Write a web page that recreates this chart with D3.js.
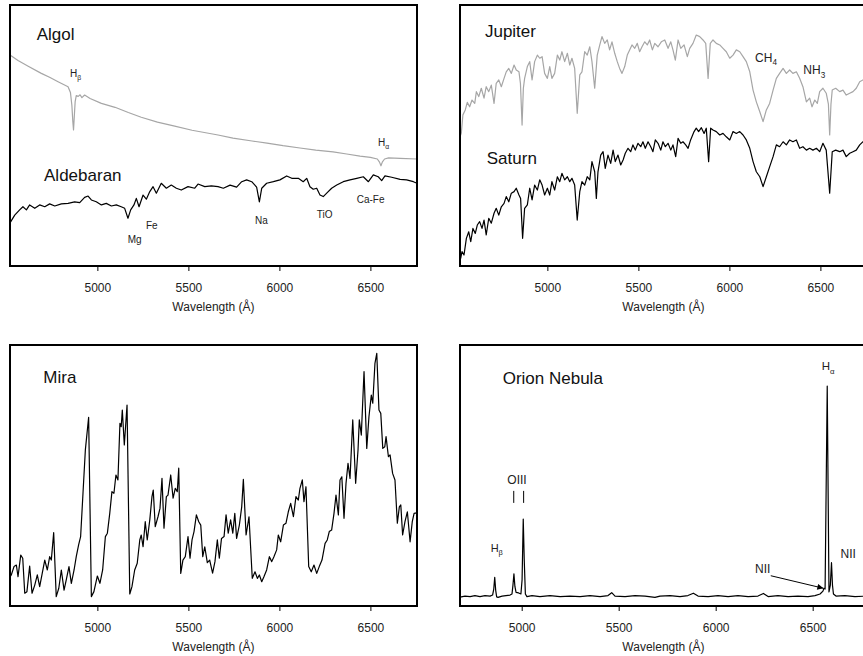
<!DOCTYPE html>
<html>
<head>
<meta charset="utf-8">
<script src="https://cdn.jsdelivr.net/npm/d3@7"></script>
<style>
  body { margin: 0; background: #fff; }
  svg { display: block; font-family: "Liberation Sans", Arial, Helvetica, sans-serif; }
  .axis text { font-size: 12px; fill: #222; }
  .axis line { stroke: #000; }
</style>
</head>
<body>
<svg id="chart" width="863" height="656"></svg>
<script>
// wavelength in Angstrom, flux in arbitrary units (0-100 per panel)
var tickValues = [5000, 5500, 6000, 6500];

var algol = [[4520,80.8],[4564,78.7],[4620,76.5],[4692,73.8],[4740,72.2],[4784,70.6],[4839,68.7],[4852,66.5],[4860,61.5],[4865,55.5],[4869,52.1],[4873,57.0],[4878,63.0],[4884,65.3],[4895,65.0],[4905,65.6],[4915,64.5],[4930,65.5],[4960,64.2],[5022,62.3],[5097,60.8],[5170,58.8],[5241,57.0],[5330,55.1],[5425,53.6],[5520,52.0],[5663,50.2],[5745,49.0],[5850,47.9],[5932,47.1],[6020,46.1],[6113,45.2],[6200,44.4],[6295,43.7],[6370,42.9],[6443,42.1],[6500,41.6],[6538,41.0],[6550,39.8],[6558,38.4],[6566,39.9],[6578,41.0],[6600,41.4],[6663,41.2],[6756,41.0]];

var aldebaran = [[4520,16.5],[4546,19.5],[4573,21.5],[4591,22.7],[4610,21.5],[4628,23.4],[4656,22.1],[4683,23.4],[4711,22.7],[4738,23.8],[4766,23.0],[4802,23.8],[4839,24.0],[4875,24.6],[4903,24.3],[4930,26.3],[4949,26.8],[4967,25.3],[4994,24.6],[5022,23.4],[5049,24.0],[5077,23.0],[5104,23.4],[5131,22.7],[5150,22.1],[5168,18.3],[5183,21.5],[5201,23.4],[5214,25.9],[5229,22.7],[5251,27.2],[5269,25.6],[5288,28.5],[5306,30.4],[5324,27.9],[5351,31.7],[5379,29.8],[5406,31.0],[5434,29.8],[5461,29.1],[5498,30.4],[5535,29.8],[5553,31.4],[5590,30.4],[5626,30.7],[5663,30.4],[5692,29.8],[5729,31.0],[5765,30.2],[5793,32.3],[5820,33.0],[5848,32.3],[5875,30.2],[5890,24.6],[5903,29.8],[5930,31.7],[5967,32.3],[6003,33.0],[6040,34.5],[6068,33.6],[6104,33.6],[6131,32.3],[6150,33.6],[6168,30.4],[6186,29.4],[6205,29.8],[6223,27.2],[6241,26.6],[6260,27.9],[6287,29.8],[6315,31.0],[6351,32.3],[6388,33.0],[6425,33.6],[6461,34.2],[6489,32.3],[6516,34.9],[6543,34.2],[6562,32.7],[6580,34.5],[6617,34.0],[6663,33.2],[6699,33.0],[6736,32.3],[6756,31.7]];

var jupiter = [[4520,49.5],[4527,50.8],[4536,57.9],[4549,59.8],[4560,62.7],[4573,61.0],[4586,63.6],[4601,62.3],[4610,66.8],[4623,64.9],[4637,68.1],[4652,64.3],[4664,68.7],[4678,66.8],[4692,69.3],[4707,62.3],[4719,70.0],[4733,71.3],[4747,68.7],[4762,71.9],[4774,74.4],[4788,75.7],[4802,73.8],[4817,77.0],[4829,75.1],[4844,74.4],[4852,70.0],[4861,54.0],[4868,68.0],[4875,71.9],[4890,76.4],[4903,78.3],[4916,71.3],[4930,78.3],[4945,80.8],[4958,79.6],[4971,80.2],[4985,73.8],[5000,71.9],[5013,76.4],[5025,71.9],[5040,73.8],[5055,80.8],[5068,78.9],[5080,82.1],[5095,78.3],[5110,81.5],[5123,77.0],[5135,79.6],[5150,75.7],[5164,58.5],[5178,73.2],[5190,74.4],[5205,82.1],[5219,80.8],[5233,84.0],[5245,78.3],[5260,68.1],[5274,80.8],[5288,84.7],[5300,87.9],[5315,85.3],[5329,86.6],[5342,82.8],[5355,85.9],[5370,81.5],[5384,78.3],[5397,75.7],[5410,73.8],[5425,76.4],[5439,80.8],[5452,82.8],[5465,84.7],[5480,83.4],[5494,85.3],[5507,82.1],[5520,84.0],[5535,85.9],[5549,84.7],[5562,86.6],[5577,82.8],[5590,85.3],[5608,84.0],[5626,85.9],[5645,86.6],[5663,83.4],[5678,85.9],[5690,82.8],[5703,78.9],[5718,86.6],[5733,83.4],[5751,84.7],[5769,80.2],[5782,83.4],[5800,85.3],[5818,88.5],[5837,87.9],[5855,86.6],[5870,85.3],[5883,71.9],[5895,85.3],[5910,86.6],[5928,85.3],[5947,84.7],[5965,83.4],[5983,82.1],[6002,79.6],[6020,80.8],[6038,82.8],[6057,82.1],[6075,80.2],[6093,78.3],[6112,74.4],[6130,67.4],[6148,62.9],[6167,59.1],[6185,55.3],[6203,59.8],[6221,62.3],[6240,67.4],[6258,71.9],[6276,73.8],[6295,75.7],[6313,73.8],[6331,75.1],[6349,73.8],[6368,74.4],[6386,71.9],[6404,68.7],[6423,62.9],[6441,64.3],[6454,61.0],[6469,63.6],[6483,62.3],[6496,66.8],[6514,68.1],[6532,66.2],[6544,62.0],[6551,50.2],[6558,62.0],[6565,67.4],[6584,68.1],[6606,66.8],[6624,67.4],[6642,65.5],[6661,66.2],[6679,66.8],[6697,68.1],[6716,70.6],[6734,71.3],[6756,72.0]];

var saturn = [[4520,2.5],[4524,3.0],[4531,5.5],[4542,4.2],[4555,10.6],[4568,13.1],[4579,9.3],[4591,14.4],[4604,12.5],[4615,15.7],[4628,17.0],[4641,14.4],[4652,17.6],[4664,11.9],[4678,18.3],[4692,16.4],[4707,20.2],[4719,22.1],[4733,19.5],[4747,22.7],[4762,24.0],[4774,26.6],[4788,24.6],[4802,27.9],[4817,28.5],[4829,29.8],[4844,27.2],[4853,25.9],[4864,10.6],[4875,22.1],[4890,23.4],[4903,29.8],[4916,25.3],[4930,31.0],[4945,29.1],[4958,33.0],[4971,31.0],[4985,27.2],[5000,29.8],[5013,27.2],[5025,32.3],[5040,29.1],[5055,34.2],[5068,32.3],[5080,35.5],[5095,33.0],[5110,34.2],[5123,32.3],[5135,33.6],[5150,31.0],[5164,17.6],[5178,28.5],[5190,32.3],[5205,31.0],[5219,34.2],[5233,33.0],[5245,40.0],[5260,36.1],[5269,25.9],[5278,36.1],[5293,42.5],[5306,43.8],[5318,37.4],[5333,42.5],[5348,39.3],[5361,44.4],[5373,40.0],[5388,42.5],[5403,38.7],[5416,40.6],[5428,43.2],[5443,45.1],[5458,43.8],[5470,46.4],[5483,44.4],[5498,47.0],[5513,45.7],[5525,47.6],[5538,45.1],[5553,47.6],[5568,45.7],[5580,43.8],[5593,48.3],[5608,47.0],[5623,44.4],[5635,47.6],[5648,45.7],[5663,47.0],[5678,44.4],[5690,46.4],[5705,41.9],[5718,48.9],[5733,47.0],[5745,47.6],[5760,46.4],[5773,45.1],[5787,48.3],[5806,51.5],[5818,52.8],[5831,51.5],[5846,53.0],[5861,50.8],[5873,52.8],[5886,40.0],[5897,52.8],[5910,52.1],[5928,51.5],[5947,50.2],[5965,50.8],[5983,49.5],[6002,48.3],[6020,51.5],[6038,50.8],[6057,51.5],[6075,50.2],[6093,48.3],[6112,45.1],[6130,40.0],[6148,36.1],[6167,34.2],[6185,30.4],[6203,34.2],[6221,38.0],[6240,41.9],[6258,46.4],[6276,45.7],[6295,47.6],[6313,46.4],[6331,48.3],[6349,47.6],[6368,48.3],[6386,45.1],[6404,45.7],[6423,44.4],[6441,45.1],[6459,44.4],[6478,45.1],[6496,43.8],[6514,47.0],[6532,44.4],[6551,27.9],[6565,43.8],[6584,44.4],[6606,43.8],[6624,44.4],[6642,41.9],[6661,43.2],[6679,43.8],[6697,44.4],[6716,46.4],[6734,47.6],[6756,48.0]];

var mira = [[4520,11.1],[4527,11.9],[4542,15.1],[4555,15.7],[4564,11.2],[4579,19.5],[4590,18.3],[4601,4.9],[4613,5.5],[4628,15.3],[4641,4.9],[4656,8.0],[4670,11.9],[4683,7.4],[4697,12.5],[4711,17.6],[4725,13.8],[4738,18.9],[4747,17.6],[4760,28.1],[4774,3.6],[4788,6.8],[4802,13.8],[4817,6.1],[4829,10.0],[4844,15.1],[4857,8.7],[4872,13.8],[4884,18.9],[4897,23.4],[4908,26.6],[4921,43.2],[4934,59.8],[4952,72.3],[4967,3.6],[4981,5.5],[5000,11.5],[5014,8.7],[5029,13.8],[5044,26.6],[5055,27.9],[5068,35.5],[5080,43.8],[5091,43.2],[5102,50.2],[5113,48.3],[5124,70.0],[5131,68.7],[5137,75.1],[5148,61.7],[5163,77.0],[5178,4.6],[5190,7.4],[5205,13.8],[5219,16.4],[5233,25.3],[5241,27.2],[5251,22.7],[5263,32.3],[5274,25.3],[5288,33.0],[5300,41.9],[5307,44.4],[5318,30.4],[5333,34.2],[5344,37.4],[5355,48.9],[5366,29.8],[5379,41.9],[5388,42.5],[5403,50.2],[5416,41.3],[5428,45.1],[5439,43.8],[5447,52.8],[5458,12.5],[5470,17.6],[5483,18.9],[5498,26.6],[5509,18.3],[5520,25.3],[5531,28.5],[5544,34.9],[5557,32.3],[5568,31.0],[5579,18.9],[5590,22.7],[5604,16.6],[5617,17.6],[5633,12.6],[5646,17.0],[5659,25.3],[5670,18.3],[5682,25.9],[5696,26.6],[5707,34.9],[5719,27.9],[5732,33.0],[5744,27.9],[5755,35.5],[5765,25.9],[5780,31.0],[5793,38.0],[5802,48.5],[5817,27.2],[5833,34.2],[5851,10.6],[5866,13.1],[5879,10.6],[5890,11.9],[5903,9.3],[5915,11.2],[5930,13.8],[5945,18.9],[5958,17.0],[5970,18.9],[5985,21.5],[5994,27.2],[6007,24.6],[6022,31.0],[6036,31.7],[6049,36.1],[6062,39.3],[6077,34.2],[6091,41.9],[6104,40.6],[6113,45.1],[6126,48.3],[6135,40.0],[6146,45.7],[6161,15.1],[6175,13.1],[6190,15.7],[6205,12.5],[6219,15.1],[6234,17.6],[6251,24.0],[6263,25.3],[6274,28.5],[6287,29.1],[6300,35.5],[6311,42.5],[6324,34.9],[6333,48.3],[6343,49.5],[6355,33.6],[6366,47.0],[6377,54.7],[6388,48.9],[6403,71.3],[6419,47.0],[6432,59.8],[6439,71.3],[6450,65.5],[6465,89.8],[6480,60.4],[6492,72.5],[6505,80.8],[6513,77.7],[6525,93.0],[6535,96.8],[6547,75.1],[6557,73.8],[6568,60.4],[6579,61.0],[6586,64.9],[6599,57.2],[6608,57.9],[6622,50.8],[6635,48.3],[6648,31.7],[6659,38.0],[6667,38.7],[6677,27.2],[6690,32.3],[6703,36.1],[6718,24.6],[6730,32.3],[6740,35.5],[6754,35.7]];

var orion = [[4682,3.4],[4708,3.8],[4734,3.6],[4759,4.0],[4785,3.6],[4811,4.0],[4837,3.8],[4850,4.2],[4856,6.5],[4861,11.0],[4866,6.0],[4871,3.5],[4878,3.3],[4899,3.8],[4919,4.0],[4940,4.2],[4950,4.6],[4955,8.0],[4960,12.3],[4965,7.5],[4971,5.2],[4984,5.0],[4996,4.6],[5002,10.0],[5008,33.3],[5013,18.0],[5019,4.6],[5027,3.6],[5053,4.0],[5094,3.6],[5146,4.0],[5198,3.6],[5249,3.8],[5301,3.6],[5352,4.0],[5404,3.6],[5445,4.0],[5464,5.1],[5481,3.8],[5533,3.6],[5584,4.0],[5636,3.8],[5687,3.3],[5713,3.8],[5765,4.0],[5816,3.6],[5857,4.0],[5885,4.9],[5909,3.8],[5961,3.6],[6012,4.0],[6064,3.6],[6115,4.0],[6167,3.6],[6218,3.8],[6246,4.8],[6270,3.6],[6321,4.0],[6373,3.6],[6424,3.8],[6476,3.6],[6512,4.0],[6538,4.6],[6553,5.7],[6558,6.8],[6564,6.5],[6575,84.3],[6584,5.4],[6591,8.0],[6597,16.6],[6602,8.0],[6607,4.6],[6620,3.8],[6666,4.0],[6718,3.6],[6780,3.8]];

var svg = d3.select("#chart");
var grey = "#a6a6a6";
var panelW = 407, panelH = 261;

svg.append("defs").append("marker")
  .attr("id", "arrow")
  .attr("viewBox", "0 0 10 10")
  .attr("refX", 10).attr("refY", 5)
  .attr("markerUnits", "userSpaceOnUse")
  .attr("markerWidth", 8).attr("markerHeight", 6)
  .attr("orient", "auto")
  .append("path").attr("d", "M0,0L10,5L0,10z").attr("fill", "#000");

function makePanel(left, top, xDomain) {
  var g = svg.append("g").attr("transform", "translate(" + left + "," + top + ")");
  var x = d3.scaleLinear().domain(xDomain).range([0, panelW]);
  var y = d3.scaleLinear().domain([0, 100]).range([panelH, 0]);

  g.append("g")
    .attr("class", "axis")
    .attr("transform", "translate(0," + panelH + ")")
    .call(d3.axisBottom(x).tickValues(tickValues).tickSizeInner(5).tickSizeOuter(0).tickPadding(12).tickFormat(d3.format("d")))
    .call(function(a) { a.select(".domain").remove(); });

  g.append("text")
    .attr("x", panelW / 2)
    .attr("y", panelH + 45)
    .attr("text-anchor", "middle")
    .attr("font-size", 12)
    .attr("fill", "#222")
    .text("Wavelength (\u00c5)");

  return { g: g, x: x, y: y };
}

function spectrum(p, data, color) {
  var line = d3.line()
    .x(function(d) { return p.x(d[0]); })
    .y(function(d) { return p.y(d[1]); });
  p.g.append("path")
    .datum(data)
    .attr("fill", "none")
    .attr("stroke", color)
    .attr("stroke-width", 1.2)
    .attr("stroke-linejoin", "round")
    .attr("d", line);
}

function frame(p) {
  p.g.append("rect")
    .attr("width", panelW).attr("height", panelH)
    .attr("fill", "none").attr("stroke", "#000").attr("stroke-width", 2);
}

function label(p, lam, val, main, sub, size, color) {
  var t = p.g.append("text")
    .attr("x", p.x(lam)).attr("y", p.y(val))
    .attr("font-size", size)
    .attr("fill", color || "#222")
    .text(main);
  if (sub) {
    t.append("tspan").attr("font-size", size * 0.68).attr("dy", size * 0.3).text(sub);
  }
}

// top left: Algol / Aldebaran
var p1 = makePanel(10, 5, [4520, 6756]);
spectrum(p1, algol, grey);
spectrum(p1, aldebaran, "#000");
frame(p1);
label(p1, 4667, 86.6, "Algol", null, 17, "#111");
label(p1, 4707, 32.6, "Aldebaran", null, 17, "#111");
label(p1, 4850, 72.3, "H", "\u03b2", 10);
label(p1, 6542, 46.0, "H", "\u03b1", 10);
label(p1, 5167, 9.0, "Mg", null, 10);
label(p1, 5267, 14.2, "Fe", null, 10);
label(p1, 5866, 16.1, "Na", null, 10);
label(p1, 6205, 18.4, "TiO", null, 10);
label(p1, 6425, 24.0, "Ca-Fe", null, 10);

// top right: Jupiter / Saturn
var p2 = makePanel(460, 5, [4520, 6756]);
spectrum(p2, jupiter, grey);
spectrum(p2, saturn, "#000");
frame(p2);
label(p2, 4657, 87.9, "Jupiter", null, 17, "#111");
label(p2, 4667, 39.1, "Saturn", null, 17, "#111");
label(p2, 6141, 78.3, "CH", "4", 12);
label(p2, 6406, 73.6, "NH", "3", 12);

// bottom left: Mira
var p3 = makePanel(10, 345, [4520, 6756]);
spectrum(p3, mira, "#000");
frame(p3);
label(p3, 4703, 85.3, "Mira", null, 17, "#111");

// bottom right: Orion Nebula
var p4 = makePanel(460, 345, [4682, 6780]);
spectrum(p4, orion, "#000");
frame(p4);
label(p4, 4902, 85.1, "Orion Nebula", null, 17, "#111");
label(p4, 6547, 90.4, "H", "\u03b1", 11.5);
label(p4, 4926, 46.7, "OIII", null, 12);
label(p4, 4840, 20.7, "H", "\u03b2", 11);
label(p4, 6203, 12.5, "NII", null, 12);
label(p4, 6644, 18.3, "NII", null, 12);

[4959, 5010].forEach(function(w) {
  p4.g.append("line")
    .attr("x1", p4.x(w)).attr("x2", p4.x(w))
    .attr("y1", p4.y(44.1)).attr("y2", p4.y(39.5))
    .attr("stroke", "#000").attr("stroke-width", 1);
});

p4.g.append("line")
  .attr("x1", p4.x(6284)).attr("y1", p4.y(11.6))
  .attr("x2", p4.x(6555)).attr("y2", p4.y(6.8))
  .attr("stroke", "#000").attr("stroke-width", 1)
  .attr("marker-end", "url(#arrow)");
</script>
</body>
</html>
